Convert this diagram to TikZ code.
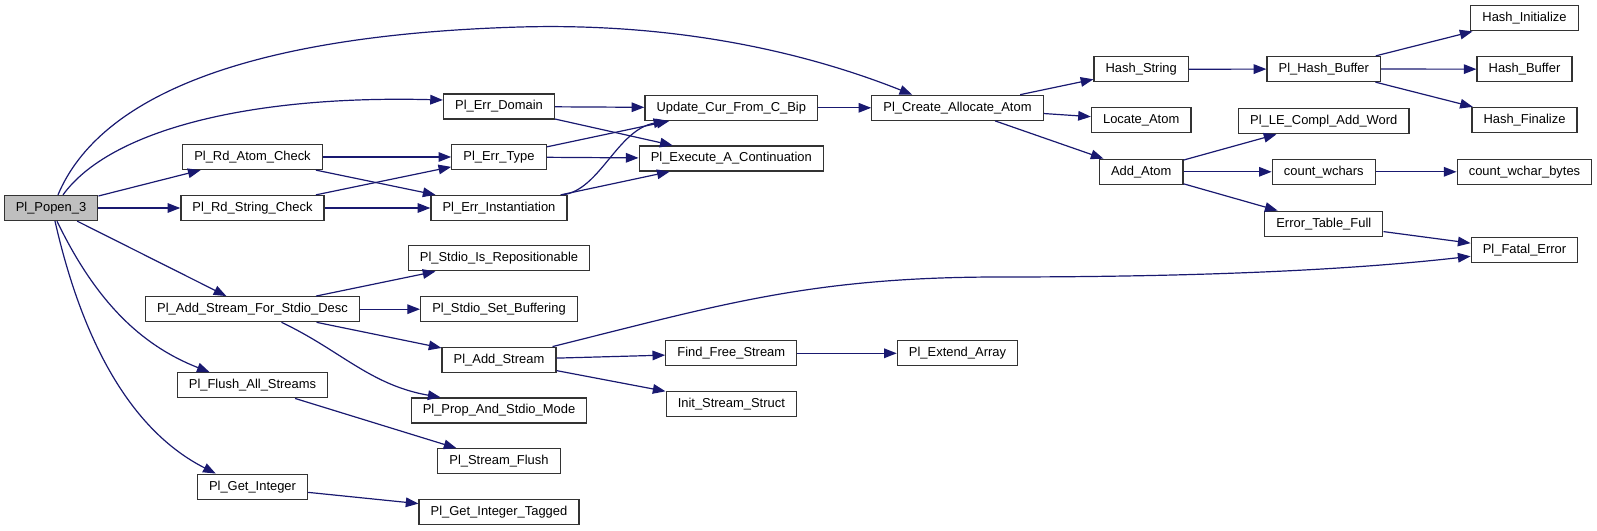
\documentclass[tikz,border=0pt]{standalone}
\usepackage{fontspec}
\setmainfont{Liberation Sans}
\usetikzlibrary{arrows.meta,calc}
\definecolor{edgeblue}{HTML}{191970}
\definecolor{rootgray}{HTML}{BFBFBF}

\begin{document}
\begin{tikzpicture}[x=0.75pt, y=-0.75pt,
    every node/.style={font=\fontsize{9.7}{11}\selectfont},
    fn/.style={draw=black!80, line width=0.95pt, fill=white, inner xsep=8.7pt, inner ysep=0pt,
               minimum height=18.75pt, text height=7.1pt, text depth=2pt},
    call/.style={draw=edgeblue, line width=0.9pt, -{Triangle[length=9.5pt,width=7.2pt]}}]
    \useasboundingbox (0,0) rectangle (1597,531);

    % functions
    \node[fn, fill=rootgray] (popen) at (51,208) {Pl\_Popen\_3};

    \node[fn] (rdatom) at (252.5,157) {Pl\_Rd\_Atom\_Check};
    \node[fn] (rdstring) at (252.5,208) {Pl\_Rd\_String\_Check};
    \node[fn] (desc) at (252.5,309.2) {Pl\_Add\_Stream\_For\_Stdio\_Desc};
    \node[fn] (flushall) at (252.5,385.3) {Pl\_Flush\_All\_Streams};
    \node[fn] (getint) at (252.5,486.7) {Pl\_Get\_Integer};

    \node[fn] (domain) at (499,106.5) {Pl\_Err\_Domain};
    \node[fn] (errtype) at (499,157) {Pl\_Err\_Type};
    \node[fn] (errinst) at (499,208) {Pl\_Err\_Instantiation};
    \node[fn] (isrepos) at (499,258.3) {Pl\_Stdio\_Is\_Repositionable};
    \node[fn] (setbuf) at (499,309.2) {Pl\_Stdio\_Set\_Buffering};
    \node[fn] (addstream) at (499,359.7) {Pl\_Add\_Stream};
    \node[fn] (propmode) at (499,410.5) {Pl\_Prop\_And\_Stdio\_Mode};
    \node[fn] (streamflush) at (499,461.3) {Pl\_Stream\_Flush};
    \node[fn] (getinttag) at (499,511.8) {Pl\_Get\_Integer\_Tagged};

    \node[fn] (update) at (731.3,107.8) {Update\_Cur\_From\_C\_Bip};
    \node[fn] (execute) at (731.3,158.5) {Pl\_Execute\_A\_Continuation};
    \node[fn] (findfree) at (731.3,353.3) {Find\_Free\_Stream};
    \node[fn] (initstream) at (731.3,403.8) {Init\_Stream\_Struct};

    \node[fn] (create) at (957.5,107.8) {Pl\_Create\_Allocate\_Atom};
    \node[fn] (extend) at (957.5,353.3) {Pl\_Extend\_Array};

    \node[fn] (hashstr) at (1141.2,69.3) {Hash\_String};
    \node[fn] (locate) at (1141.2,120) {Locate\_Atom};
    \node[fn] (addatom) at (1141.2,171.8) {Add\_Atom};

    \node[fn] (hashbuf) at (1323.8,69) {Pl\_Hash\_Buffer};
    \node[fn] (lecompl) at (1323.8,121.2) {Pl\_LE\_Compl\_Add\_Word};
    \node[fn] (countw) at (1323.8,171.8) {count\_wchars};
    \node[fn] (errtable) at (1323.8,223.7) {Error\_Table\_Full};

    \node[fn] (hashinit) at (1524.5,18.3) {Hash\_Initialize};
    \node[fn] (hashbuffer) at (1524.5,69.2) {Hash\_Buffer};
    \node[fn] (hashfin) at (1524.5,120) {Hash\_Finalize};
    \node[fn] (countwb) at (1524.5,171.8) {count\_wchar\_bytes};
    \node[fn] (fatal) at (1524.5,250.3) {Pl\_Fatal\_Error};

    % calls from Pl_Popen_3
    \draw[call] ($(popen.north)+(7,0)$) .. controls (100,95) and (250,35) .. (520,27)
        .. controls (700,22) and (830,62) .. ($(create.north west)+(41,0)$);
    \draw[call] ($(popen.north)+(12,0)$) .. controls (110,130) and (250,95) .. ($(domain.west)+(0,-6.5)$);
    \draw[call] (popen) -- (rdatom);
    \draw[call] (popen) -- (rdstring);
    \draw[call] (popen) -- (desc);
    \draw[call] ($(popen.south)+(6,0)$) .. controls (95,300) and (140,345) .. ($(flushall.north west)+(33,0)$);
    \draw[call] ($(popen.south)+(4,0)$) .. controls (82,340) and (130,430) .. ($(getint.north west)+(19,0)$);

    % second column
    \draw[call] (rdatom) -- (errtype);
    \draw[call] (rdatom) -- (errinst);
    \draw[call] (rdstring) -- (errtype);
    \draw[call] (rdstring) -- (errinst);
    \draw[call] (desc) -- (isrepos);
    \draw[call] (desc) -- (setbuf);
    \draw[call] (desc) -- (addstream);
    \draw[call] ($(desc.south)+(29,0)$) .. controls (340,350) and (370,385) .. ($(propmode.north west)+(30,0)$);
    \draw[call] (flushall) -- (streamflush);
    \draw[call] (getint) -- (getinttag);

    % error helpers
    \draw[call] (domain) -- (update);
    \draw[call] (domain) -- (execute);
    \draw[call] (errtype) -- (update);
    \draw[call] (errtype) -- (execute);
    \draw[call] ($(errinst.north east)+(-5,0)$) .. controls (600,190) and (617,130) .. ($(update.south west)+(22,0)$);
    \draw[call] (errinst) -- (execute);

    % streams
    \draw[call] ($(addstream.north east)+(-4,0)$) .. controls (720,305) and (810,277) .. (1000,277)
        .. controls (1200,277) and (1350,270) .. ($(fatal.west)+(0,6)$);
    \draw[call] (addstream) -- (findfree);
    \draw[call] (addstream) -- (initstream);
    \draw[call] (findfree) -- (extend);

    % atoms
    \draw[call] (update) -- (create);
    \draw[call] (create) -- (hashstr);
    \draw[call] (create) -- (locate);
    \draw[call] (create) -- (addatom);
    \draw[call] (hashstr) -- (hashbuf);
    \draw[call] (hashbuf) -- (hashinit);
    \draw[call] (hashbuf) -- (hashbuffer);
    \draw[call] (hashbuf) -- (hashfin);
    \draw[call] (addatom) -- (lecompl);
    \draw[call] (addatom) -- (countw);
    \draw[call] (addatom) -- (errtable);
    \draw[call] (countw) -- (countwb);
    \draw[call] (errtable) -- (fatal);

\end{tikzpicture}
\end{document}
